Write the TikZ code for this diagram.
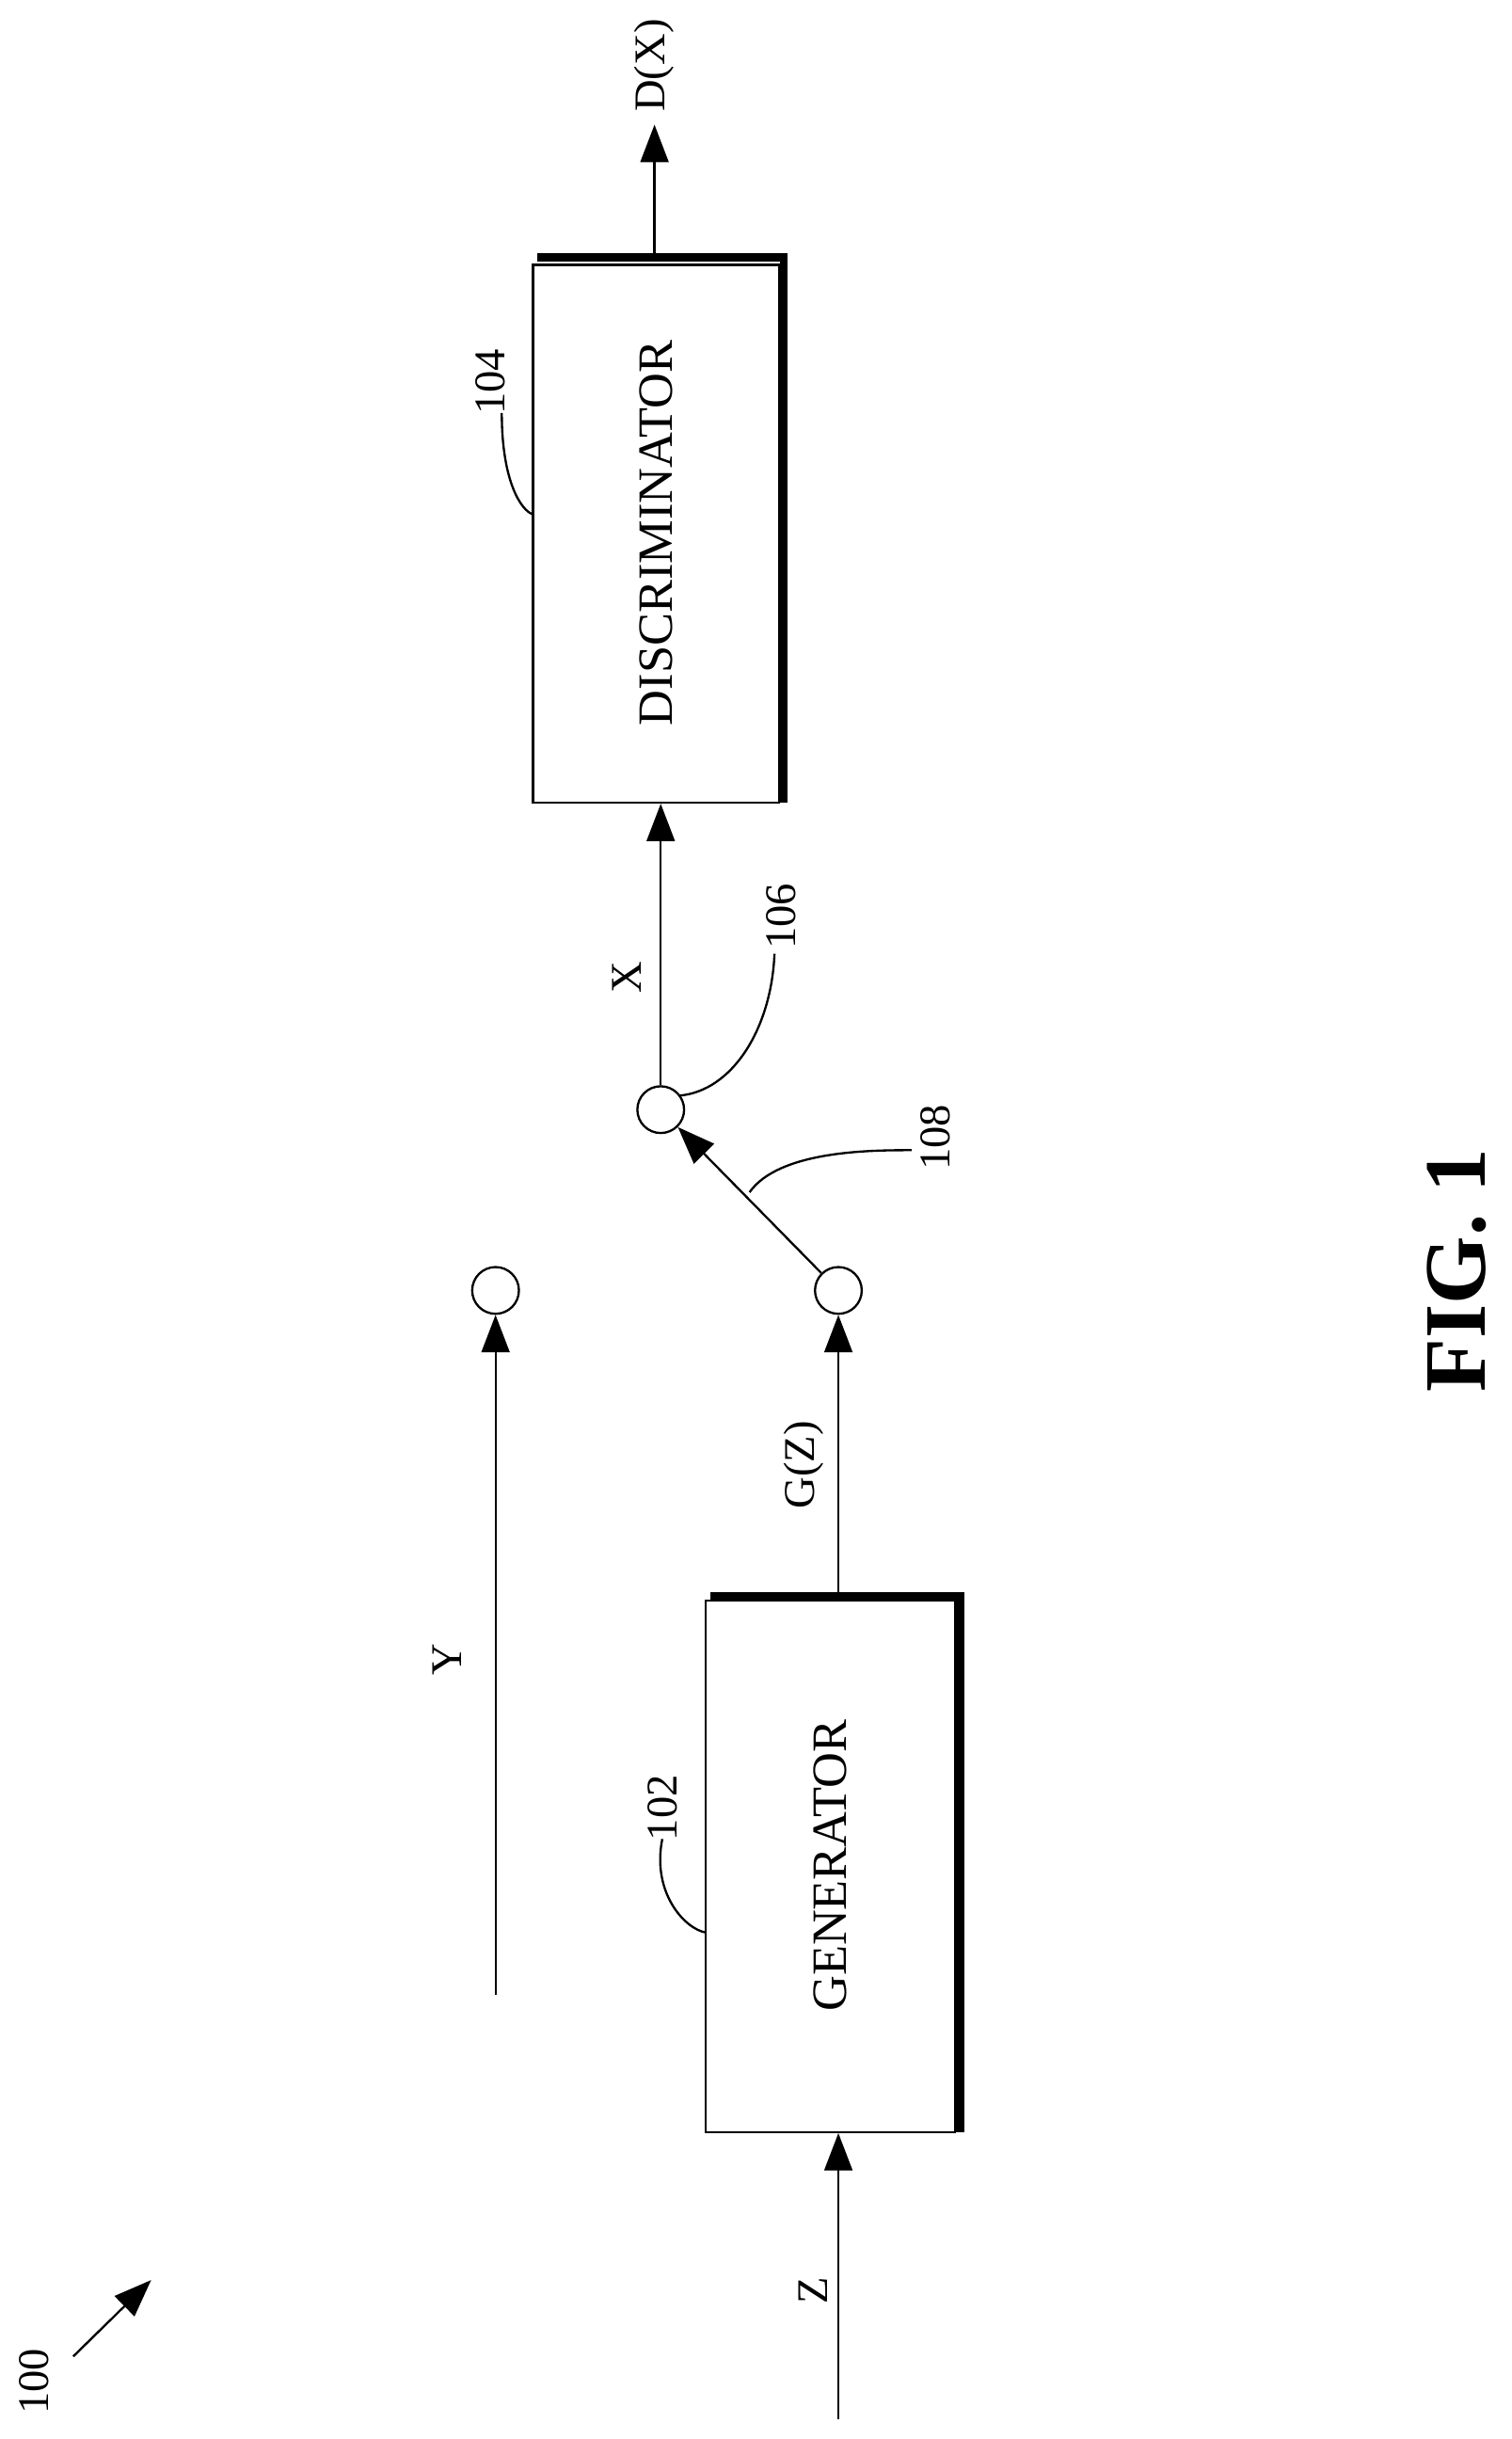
\documentclass[tikz,border=0pt]{standalone}
\usepackage{fontspec}
\setmainfont{Liberation Serif}
\usetikzlibrary{arrows.meta}
\begin{document}
\begin{tikzpicture}[x=0.1mm,y=-0.1mm,line width=0.4pt,
  lab/.style={rotate=90,font=\fontsize{8}{9}\selectfont,inner sep=0},
  arr/.style={-{Triangle[length=2.4mm,width=1.8mm]}},
  circ/.style={circle,draw,minimum size=3mm,inner sep=0},
  box/.style={draw,inner sep=0},
  shadow/.style={line width=1.5pt}]
\useasboundingbox (0,0) rectangle (970,1565);
% boxes
\node[box,minimum width=158mm/10,minimum height=345mm/10] (disc) at (421,342.5) {};
\node[lab,font=\fontsize{9}{10}\selectfont] (dt) at (421,342) {DISCRIMINATOR};
\draw[shadow] (345,165) -- (503,165) -- (503,515);
\node[box,minimum width=160mm/10,minimum height=341mm/10] (gen) at (533,1197.5) {};
\node[lab,font=\fontsize{9}{10}\selectfont] (gt) at (533,1197) {GENERATOR};
\draw[shadow] (456,1024) -- (616,1024) -- (616,1368);
% circles
\node[circ] (c106) at (424,712) {};
\node[circ] (cg) at (538,828) {};
\node[circ] (cy) at (318,828) {};
% arrows
\coordinate (dxtop) at (420,80);
\draw[arr] (420,165) -- (dxtop);
\node[lab] (dx) at (420,42) {D(X)};
\draw[arr] (c106) -- (c106 |- disc.south);
\node[lab] (x) at (402,627) {X};
\draw[arr] (cg) -- (c106);
\draw[arr] (538,1024) -- (cg);
\node[lab] (gz) at (516,940) {G(Z)};
\coordinate (ys) at (318,1280);
\draw[arr] (ys) -- (cy);
\node[lab] (y) at (287,1065) {Y};
\coordinate (zs) at (538,1552);
\draw[arr] (zs) -- (gen.south -| zs);
\node[lab] (z) at (522,1470) {Z};
% reference labels
\node[lab] (l104) at (315,245) {104};
\draw (322,265) .. controls (322,310) and (335,328) .. (342,330);
\node[lab] (l102) at (425,1160) {102};
\draw (425,1180) .. controls (418,1215) and (440,1238) .. (453,1240);
\node[lab] (l106) at (501,588) {106};
\draw (436,703) .. controls (470,700) and (495,660) .. (497,612);
\node[lab] (l108) at (600,730) {108};
\draw (481,765) .. controls (500,738) and (560,738) .. (585,738);
\node[lab] (l100) at (22,1528) {100};
\coordinate (a100) at (97,1463);
\draw[arr] (47,1512) -- (a100);
\node[rotate=90,font=\bfseries\fontsize{16}{18}\selectfont] (fig) at (935,815) {FIG. 1};
\end{tikzpicture}
\end{document}
